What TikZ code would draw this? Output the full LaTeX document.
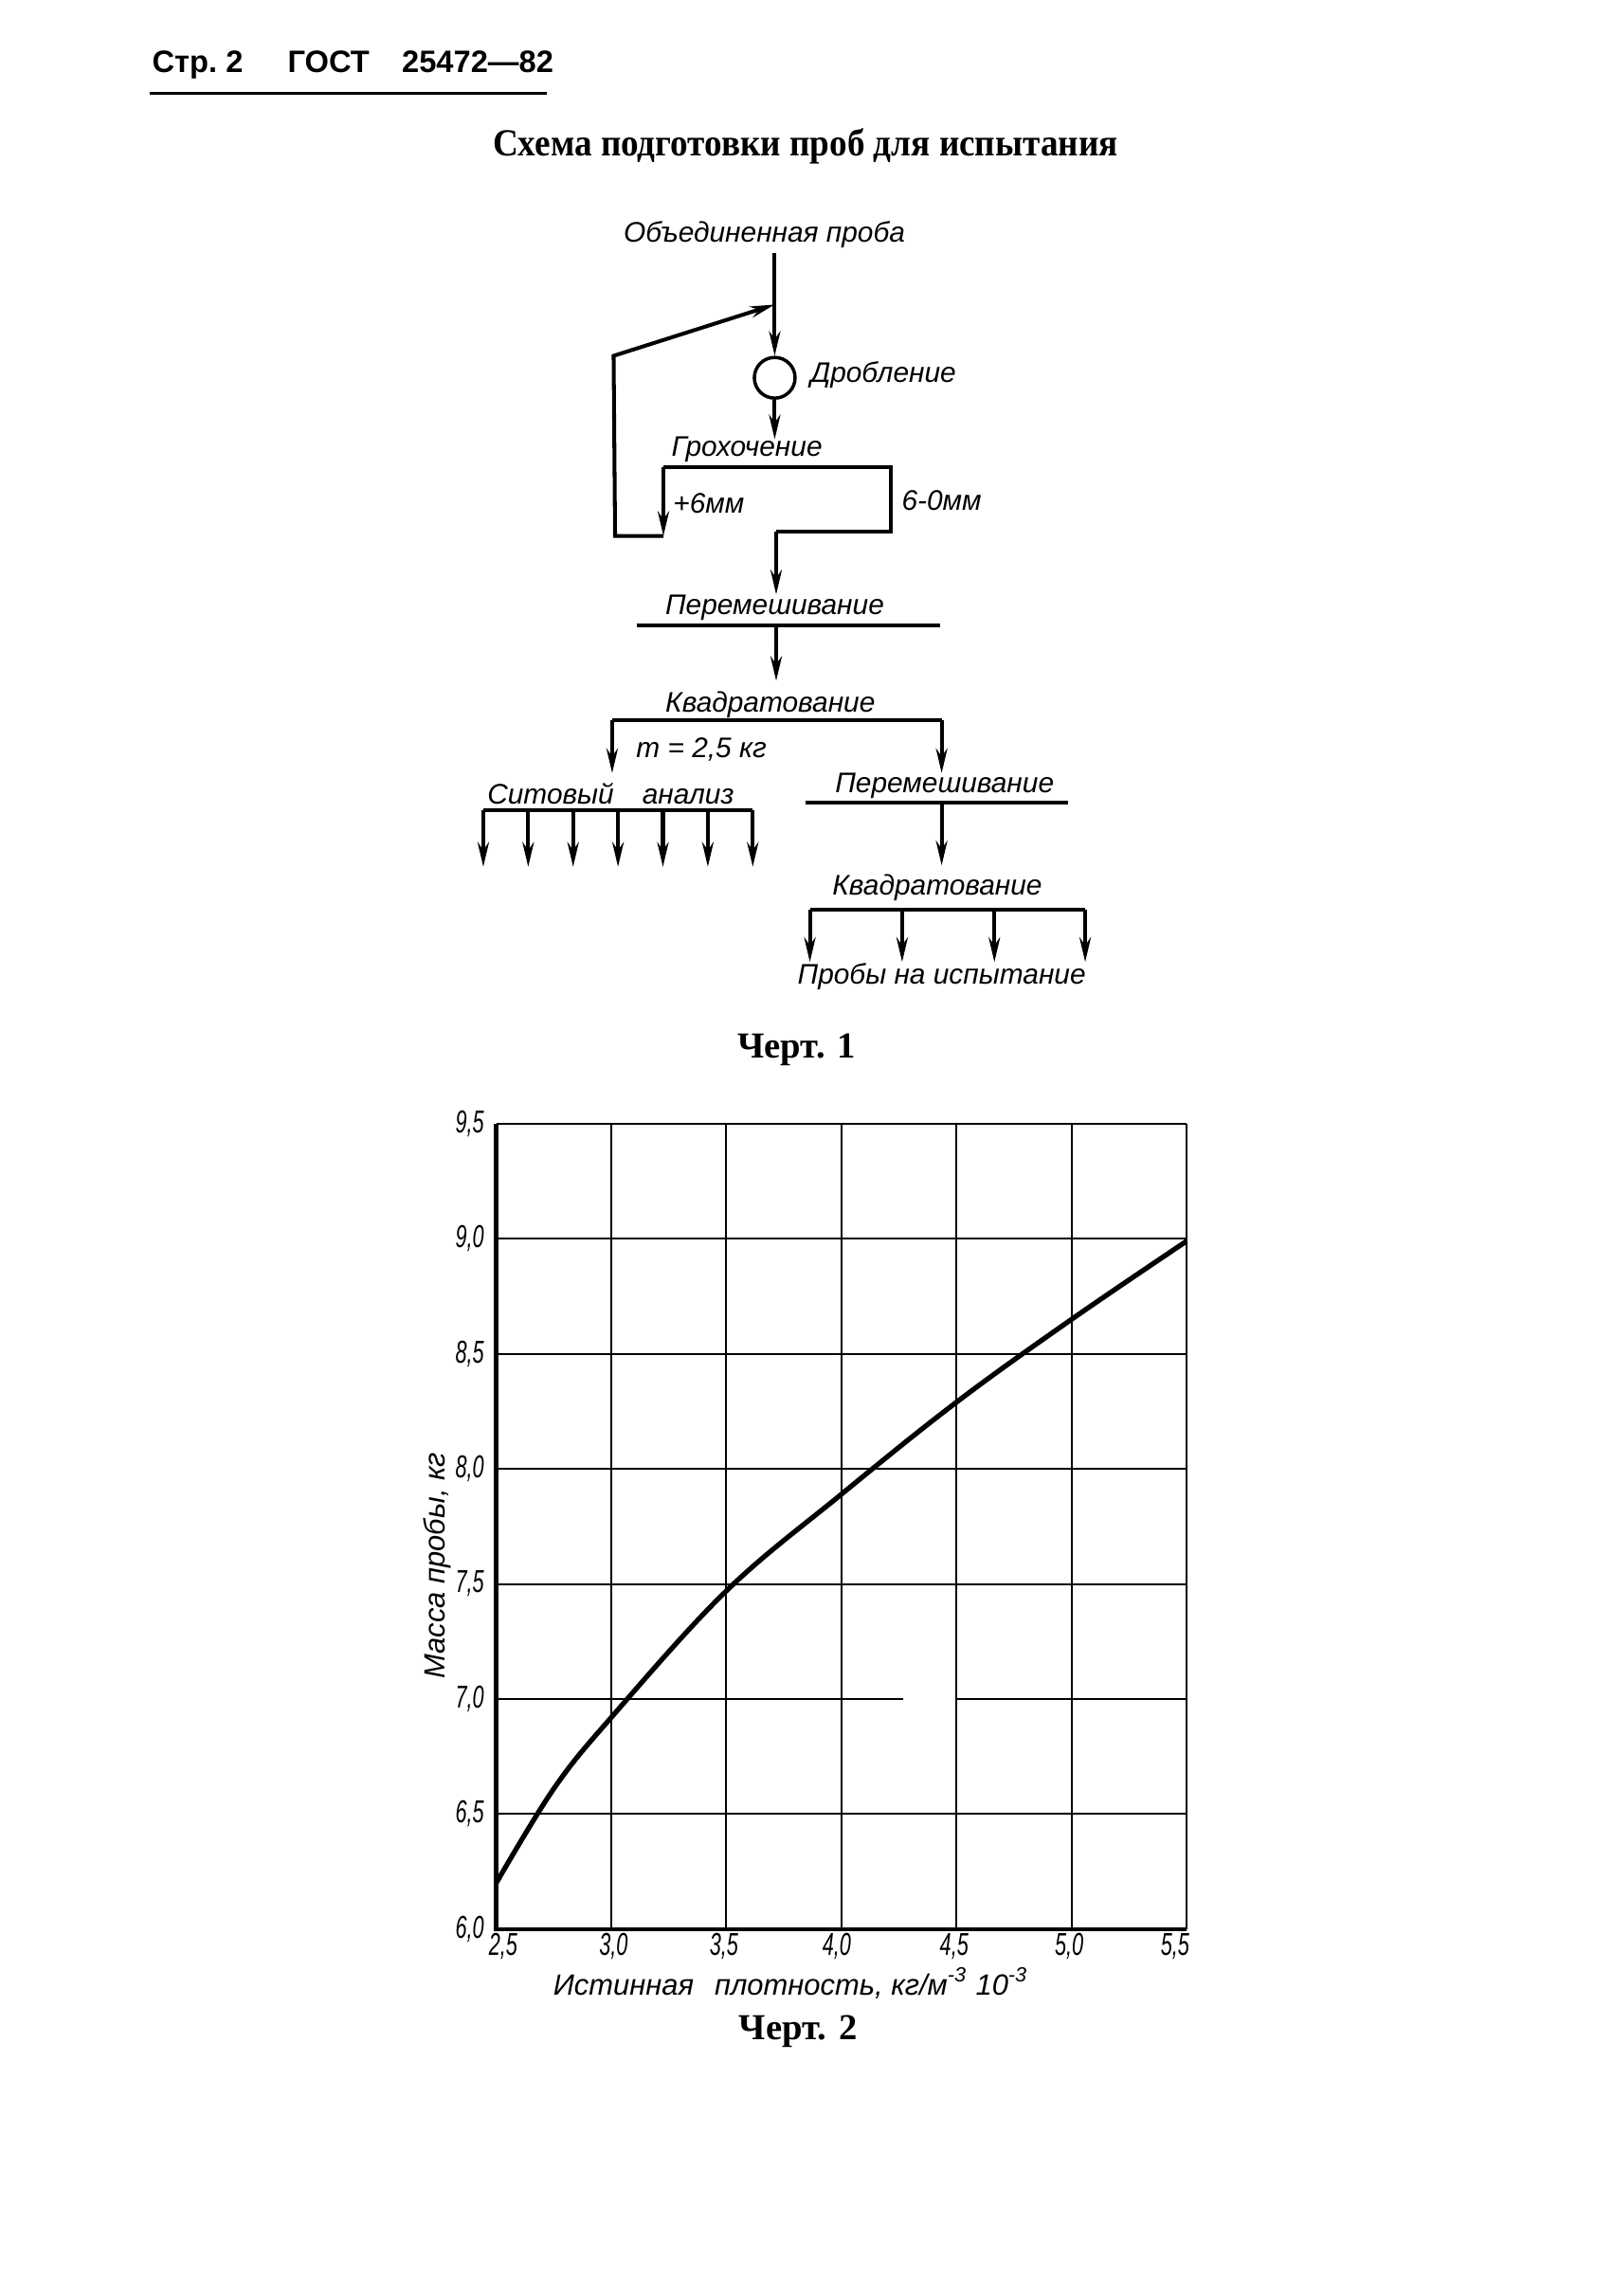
\documentclass[tikz,border=0pt]{standalone}
\usepackage{fontspec}
\setmainfont{Liberation Serif}
\setsansfont{Liberation Sans}
\newfontfamily\chartfont{Liberation Sans}[FakeStretch=0.65]
\newfontfamily\titlefont{Liberation Serif}[FakeStretch=0.92]
\usetikzlibrary{arrows.meta,positioning,calc}

\tikzset{
  head/.style={font=\sffamily\bfseries\fontsize{9.3}{11}\selectfont, inner sep=0pt},
  lbl/.style={font=\sffamily\itshape\fontsize{8.5}{10}\selectfont, inner sep=0pt},
  flow/.style={line width=1.15pt},
  arr/.style={flow, -{Stealth[length=2.6mm,width=1.2mm]}},
  gridline/.style={line width=0.6pt},
  axisline/.style={line width=1.3pt},
  curve/.style={line width=1.5pt},
  tick/.style={font=\chartfont\itshape\fontsize{9.5}{11}\selectfont, inner sep=0pt},
  axtitle/.style={font=\sffamily\itshape\fontsize{8.8}{10}\selectfont, inner sep=0pt},
  caption/.style={font=\bfseries\fontsize{11}{13}\selectfont, inner sep=0pt}
}

\begin{document}
\begin{tikzpicture}[x=0.01545cm, y=-0.01545cm]
  \useasboundingbox (0,0) rectangle (1101,1568);

  \node[head, anchor=base west] (page) at (103.5,49.8) {Стр.\ 2};
  \node[head, anchor=base west] (gost) at (196,49.8) {ГОСТ};
  \node[head, anchor=base west] (num)  at (274,49.8) {25472—82};
  \draw[line width=1pt] (102,63.7) -- (373.5,63.7);

  \node[font=\titlefont\bfseries\fontsize{11.5}{14}\selectfont] (title) at (550,100)
    {Схема подготовки проб для испытания};

  % scheme
  \node[lbl] (merged) at (522,160) {Объединенная проба};
  \coordinate (top)  at (529,173);
  \coordinate (join) at (529,208);
  \node[circle, draw, line width=1pt, minimum size=4.3mm, inner sep=0pt] (crush) at (529,258) {};
  \node[lbl, anchor=west] (crushlbl) at (553,256) {Дробление};
  \coordinate (scrin) at (529,300);

  \draw[flow] (top) -- (join);
  \draw[arr] (join) -- (crush.north);
  \draw[arr] (crush.south) -- (scrin);

  \node[lbl] (screen) at (510,307) {Грохочение};
  \coordinate (scrL)  at (453,319);
  \coordinate (scrR)  at (608,319);
  \coordinate (scrRb) at (608,363);
  \coordinate (scrout) at (530,363);
  \coordinate (scrLb) at (453,366);
  \coordinate (retB)  at (420,366);
  \coordinate (retT)  at (419,243);
  \draw[flow] (scrL) -- (scrR) -- (scrRb) -- (scrout);
  \draw[arr] (scrL) -- (scrLb);
  \draw[arr] (scrLb) -- (retB) -- (retT) -- (join);
  \node[lbl] (coarse) at (484,344) {+6мм};
  \node[lbl] (fine)   at (643,342) {6-0мм};

  \node[lbl] (mixA) at (529,415) {Перемешивание};
  \coordinate (mixAin) at (530,406);
  \coordinate (mixAl) at (435,427);
  \coordinate (mixAr) at (642,427);
  \coordinate (mixAo) at (530,427);
  \coordinate (quartAin) at (530,465);
  \draw[arr] (scrout) -- (mixAin);
  \draw[flow] (mixAl) -- (mixAr);
  \draw[arr] (mixAo) -- (quartAin);

  \node[lbl] (quartA) at (526,481) {Квадратование};
  \coordinate (qAl) at (418,492);
  \coordinate (qAr) at (643,492);
  \coordinate (sievein) at (418,528);
  \coordinate (mixBin) at (643,528);
  \draw[flow] (qAl) -- (qAr);
  \draw[arr] (qAl) -- (sievein);
  \draw[arr] (qAr) -- (mixBin);
  \node[lbl] (mass) at (479,512) {m = 2,5 кг};

  \node[lbl] (sieve) at (417,542) {Ситовый\hspace{3mm}анализ};
  \coordinate (sieveL) at (330,553);
  \coordinate (sieveR) at (514,553);
  \draw[flow] (sieveL) -- (sieveR);
  \foreach \i in {0,...,6}
    \draw[arr] ($(sieveL)!\i/6!(sieveR)$) -- ++(0,39);

  \node[lbl] (mixB) at (645,537) {Перемешивание};
  \coordinate (mixBl) at (550,548);
  \coordinate (mixBr) at (729,548);
  \coordinate (mixBo) at (643,548);
  \coordinate (quartBin) at (643,591);
  \draw[flow] (mixBl) -- (mixBr);
  \draw[arr] (mixBo) -- (quartBin);

  \node[lbl] (quartB) at (640,606) {Квадратование};
  \draw[flow] (553,621) -- (741,621);
  \foreach \x in {553,616,679,741}
    \draw[arr] (\x,621) -- (\x,657);
  \node[lbl] (samples) at (643,667) {Пробы на испытание};

  \node[caption] (figA) at (544,717) {Черт. 1};

  % chart
  \begin{scope}[shift={(-54,2260.2)}, x=2.4287cm, y=2.4287cm]
    \foreach \v in {6.5,7.5,8.0,8.5,9.0,9.5}
      \draw[gridline] (2.5,\v) -- (5.5,\v);
    \draw[gridline] (2.5,7) -- (4.27,7) (4.5,7) -- (5.5,7);
    \foreach \u in {3.0,3.5,...,5.5}
      \draw[gridline] (\u,6) -- (\u,9.5);
    \draw[axisline] (2.5,9.5) -- (2.5,6) -- (5.5,6);

    \foreach \v/\t in {6.0/{6,0},6.5/{6,5},7.0/{7,0},7.5/{7,5},8.0/{8,0},8.5/{8,5},9.0/{9,0},9.5/{9,5}}
      \node[tick, anchor=east] at (2.45,\v) {\t};
    \foreach \u/\t in {2.53/{2,5},3.01/{3,0},3.49/{3,5},3.98/{4,0},4.49/{4,5},4.99/{5,0},5.45/{5,5}}
      \node[tick, anchor=north] at (\u,5.985) {\t};

    \draw[curve] plot[smooth, tension=0.6] coordinates {(2.5,6.2) (2.75,6.61) (3.0,6.92) (3.5,7.47)
      (4.0,7.89) (4.5,8.29) (5.0,8.65) (5.5,8.99)};

    \node[axtitle] (xtitle) at (3.78,5.765)
      {Истинная\hspace{2.2mm}плотность, кг/м\textsuperscript{-3} 10\textsuperscript{-3}};
    \node[axtitle, rotate=90] (ytitle) at (2.245,7.58) {Масса пробы, кг};
  \end{scope}

  \node[caption] (figB) at (545,1387) {Черт. 2};
\end{tikzpicture}
\end{document}
